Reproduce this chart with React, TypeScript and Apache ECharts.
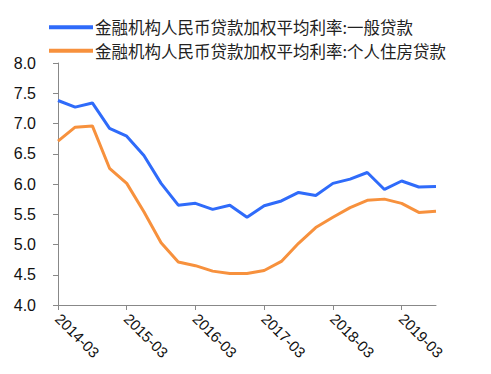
import React, { useEffect, useRef } from "react";
import * as echarts from "echarts";

const categories = [
  "2014-03", "2014-06", "2014-09", "2014-12",
  "2015-03", "2015-06", "2015-09", "2015-12",
  "2016-03", "2016-06", "2016-09", "2016-12",
  "2017-03", "2017-06", "2017-09", "2017-12",
  "2018-03", "2018-06", "2018-09", "2018-12",
  "2019-03", "2019-06", "2019-09",
];

const generalLoan = [
  7.38, 7.27, 7.34, 6.92, 6.79, 6.47, 6.01, 5.65, 5.68, 5.58, 5.65, 5.45,
  5.64, 5.72, 5.86, 5.81, 6.01, 6.08, 6.19, 5.91, 6.05, 5.95, 5.96,
];

const housingLoan = [
  6.71, 6.94, 6.96, 6.26, 6.01, 5.54, 5.03, 4.71, 4.65, 4.56, 4.52, 4.52,
  4.57, 4.72, 5.02, 5.28, 5.45, 5.61, 5.73, 5.75, 5.68, 5.53, 5.55,
];

const seriesNames = [
  "金融机构人民币贷款加权平均利率:一般贷款",
  "金融机构人民币贷款加权平均利率:个人住房贷款",
];

export default function App() {
  const ref = useRef<HTMLDivElement>(null);
  useEffect(() => {
    if (!ref.current) return;
    const chart = echarts.init(ref.current, undefined, { renderer: "svg" });
    chart.setOption({
      animation: false,
      color: ["#2F6BFA", "#F7913D"],
      legend: {
        orient: "vertical",
        left: 44,
        top: 14,
        itemWidth: 44,
        itemHeight: 4,
        itemGap: 7,
        icon: "rect",
        textStyle: {
          fontFamily: "Noto Sans CJK SC",
          fontSize: 16.5,
          color: "#222",
          padding: [0, 0, 0, -3],
        },
        data: seriesNames,
      },
      grid: { left: 58, right: 55, top: 63, bottom: 69 },
      xAxis: {
        type: "category",
        data: categories,
        boundaryGap: false,
        axisLine: { lineStyle: { color: "#888", width: 1 } },
        axisTick: { interval: 3, length: 5, lineStyle: { color: "#888" } },
        axisLabel: {
          interval: 3,
          rotate: -45,
          color: "#111",
          fontSize: 15,
          fontFamily: "Liberation Sans",
          margin: 11,
        },
        splitLine: { show: false },
      },
      yAxis: {
        type: "value",
        min: 4,
        max: 8,
        interval: 0.5,
        axisLine: { show: true, lineStyle: { color: "#888", width: 1 } },
        axisTick: { show: true, length: 5, lineStyle: { color: "#888" } },
        axisLabel: {
          color: "#111",
          fontSize: 16,
          fontFamily: "Liberation Sans",
          margin: 22,
          formatter: (v: number) => v.toFixed(1),
        },
        splitLine: { show: false },
      },
      series: [
        {
          name: seriesNames[0],
          type: "line",
          data: generalLoan,
          symbol: "none",
          lineStyle: { width: 3 },
        },
        {
          name: seriesNames[1],
          type: "line",
          data: housingLoan,
          symbol: "none",
          lineStyle: { width: 3 },
        },
      ],
    });
    return () => chart.dispose();
  }, []);
  return (
    <div
      ref={ref}
      style={{ position: "absolute", left: 0, top: 0, width: 491, height: 374 }}
    />
  );
}
